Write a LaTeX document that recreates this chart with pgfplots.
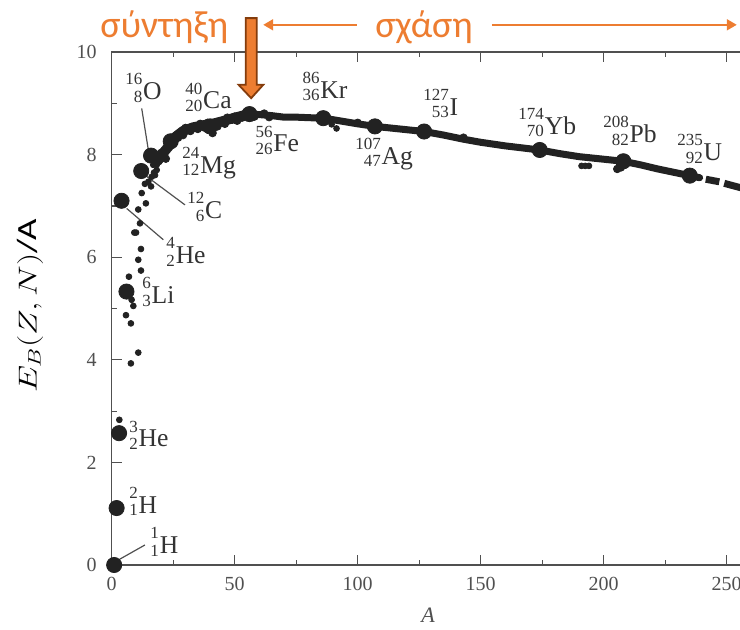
\documentclass[border=0pt]{standalone}
\usepackage{fontspec}
\setmainfont{Liberation Serif}
\newfontfamily\carlito{Carlito}
\usepackage{pgfplots}
\pgfplotsset{compat=1.18}
\usetikzlibrary{arrows.meta}

\definecolor{fuse}{HTML}{ED7D31}
\definecolor{fuseedge}{HTML}{843C0C}
\definecolor{ink}{HTML}{222222}
\definecolor{axisgray}{HTML}{505050}
\definecolor{labelgray}{HTML}{333333}

% nuclide label: mass number over atomic number, then the symbol
\newcommand{\iso}[3]{{\fontsize{8.5}{8.6}\selectfont\raisebox{-1.2pt}{\begin{tabular}[b]{@{}r@{}}#1\\#2\end{tabular}}}\kern0.4pt#3}
\newcommand{\isofont}{\fontsize{12.8}{14}\selectfont}

\begin{document}
\begin{tikzpicture}
\begin{axis}[
    x=1.23pt, y=25.65pt,
    anchor=origin, at={(0,0)},
    xmin=0, xmax=262, ymin=0, ymax=10,
    clip=false,
    axis line style={axisgray, line width=0.7pt},
    every tick/.style={axisgray, line width=0.6pt},
    major tick length=5pt, minor tick length=2.5pt,
    xtick={0,50,...,250}, minor xtick={25,75,...,250},
    ytick={0,2,...,10}, minor ytick={1,3,...,9},
    tick align=inside,
    xtick pos=both, ytick pos=both,
    tick label style={font=\rmfamily\fontsize{10}{12}\selectfont, text=axisgray},
    /pgf/number format/assume math mode=true,
    xticklabel style={yshift=-2.5pt},
    yticklabel style={xshift=-4pt},
]

% main band of stable nuclei
\addplot[ink, line width=3.5pt, line join=round, line cap=round] coordinates {
    (19,7.85) (21,7.97) (23,8.15) (24,8.26) (26,8.35) (28,8.45) (31,8.49)
    (34,8.56) (37,8.58) (40,8.58) (44,8.64) (48,8.70) (52,8.75) (56,8.79)
    (60,8.78) (65,8.76) (70,8.73) (75,8.73) (80,8.72) (86,8.71) (90,8.68)
    (95,8.64) (100,8.60) (107,8.55) (115,8.51) (121,8.48) (127,8.45)
    (135,8.38) (143,8.30) (150,8.24) (160,8.17) (167,8.13) (174,8.09)
    (182,8.02) (190,7.96) (198,7.92) (208,7.87) (215,7.80) (222,7.72)
    (229,7.65) (235,7.59) (239,7.55)
};
\addplot[ink, line width=5pt, line join=round, line cap=round] coordinates {
    (20,7.98) (23,8.15) (26,8.35) (29,8.46) (33,8.53) (37,8.57) (41,8.60)
    (45,8.65) (50,8.72) (55,8.78)
};
\addplot[ink, line width=3.5pt] coordinates {(241.5,7.52) (247,7.47)};
\addplot[ink, line width=3.5pt] coordinates {(249,7.44) (256,7.35)};

% scatter around the band
\addplot[only marks, mark=*, mark size=1.9pt, ink] coordinates {
    (20,8.03) (22,7.92) (25,8.22) (27,8.33) (29,8.38) (30,8.52) (32,8.46)
    (33,8.53) (35,8.50) (36,8.60) (38,8.52) (39,8.62) (41,8.42) (42,8.62)
    (43,8.55) (45,8.64) (46,8.60) (47,8.72) (49,8.68) (50,8.74) (51,8.66)
    (53,8.72) (55,8.77) (58,8.74) (62,8.80) (64,8.73)
    (100,8.62) (143,8.33) (205.5,7.72) (207,7.75)
};

% light nuclei and stray points
\addplot[only marks, mark=*, mark size=1.45pt, ink] coordinates {
    (3.1,2.83) (5.8,4.87) (7.8,4.71) (7.8,3.93) (10.8,4.14) (7.0,5.62)
    (8.1,5.17) (8.8,5.05) (11.9,5.74) (10.8,5.95) (11.9,6.16) (9.2,6.48)
    (9.9,6.48) (11.5,6.66) (10.8,6.93) (13.9,7.05) (12.2,7.25) (13.5,7.43)
    (16,7.38) (14.9,7.47) (17.2,7.65) (18.3,7.80) (16.9,7.80) (18.3,7.70)
    (17.6,7.60) (16.3,7.57)
    (89.4,8.59) (91.4,8.51) (191,7.78) (192.5,7.78) (194,7.78)
};

% labelled nuclides
\addplot[only marks, mark=*, mark size=3.8pt, ink] coordinates {
    (1,0.0) (2,1.11) (3,2.57) (4,7.1) (6,5.33) (12,7.68) (16,7.98)
    (24,8.26) (40,8.55) (56,8.79) (86,8.71) (107,8.55) (127,8.45)
    (174,8.09) (208,7.87) (235,7.59)
};

% leader lines
\draw[axisgray, line width=0.6pt] (axis cs:12.2,8.90) -- (axis cs:14.9,8.09);
\draw[axisgray, line width=0.6pt] (axis cs:13.5,7.60) -- (axis cs:29.8,7.02);
\draw[axisgray, line width=0.6pt] (axis cs:6.1,6.95) -- (axis cs:21.0,6.34);
\draw[axisgray, line width=0.6pt] (axis cs:1.3,0.06) -- (axis cs:13.5,0.39);

% nuclide labels
\begin{scope}[every node/.style={anchor=west, inner sep=0pt, text=labelgray, font=\isofont}]
\node at (axis cs:5.4,9.26) {\iso{16}{8}{O}};
\node at (axis cs:29.8,9.08) {\iso{40}{20}{Ca}};
\node at (axis cs:28.6,7.82) {\iso{24}{12}{Mg}};
\node at (axis cs:58.3,8.24) {\iso{56}{26}{Fe}};
\node at (axis cs:77.4,9.28) {\iso{86}{36}{Kr}};
\node at (axis cs:98.9,8.00) {\iso{107}{47}{Ag}};
\node at (axis cs:126.5,8.95) {\iso{127}{53}{I}};
\node at (axis cs:165.2,8.58) {\iso{174}{70}{Yb}};
\node at (axis cs:199.7,8.42) {\iso{208}{82}{Pb}};
\node at (axis cs:229.8,8.07) {\iso{235}{92}{U}};
\node at (axis cs:30.6,6.94) {\iso{12}{6}{C}};
\node at (axis cs:22.1,6.06) {\iso{4}{2}{He}};
\node at (axis cs:12.3,5.28) {\iso{6}{3}{Li}};
\node at (axis cs:7.0,2.49) {\iso{3}{2}{He}};
\node at (axis cs:7.0,1.20) {\iso{2}{1}{H}};
\node at (axis cs:15.6,0.41) {\iso{1}{1}{H}};
\end{scope}

% x label
\node[text=axisgray, font=\fontsize{11}{12}\selectfont\itshape] at (axis cs:128.6,-0.97) {A};

% fusion / fission annotations
\node[anchor=base west, inner sep=0pt, text=fuse, font=\carlito\fontsize{19}{21}\selectfont] at (axis cs:-4.76,10.29) {σύντηξη};
\node[anchor=base west, inner sep=0pt, text=fuse, font=\carlito\fontsize{19}{21}\selectfont] at (axis cs:107,10.29) {σχάση};
\draw[fuse, line width=1pt, -{Triangle[length=5pt,width=5.5pt]}] (axis cs:99.6,10.53) -- (axis cs:61.6,10.53);
\draw[fuse, line width=1pt, -{Triangle[length=5pt,width=5.5pt]}] (axis cs:154.5,10.53) -- (axis cs:254.1,10.53);
\draw[fuseedge, fill=fuse, line width=0.9pt, line join=miter]
    (axis cs:54.5,10.66) -- (axis cs:59.0,10.66) -- (axis cs:59.0,9.36)
    -- (axis cs:61.6,9.36) -- (axis cs:56.7,9.10) -- (axis cs:51.6,9.36)
    -- (axis cs:54.5,9.36) -- cycle;
\end{axis}

% y label
\node[rotate=90, anchor=base, inner sep=0pt] at (-37.5pt,129.5pt)
    {\scalebox{1}[0.75]{\fontsize{18.5}{20}\selectfont$E_B(Z,N)$\carlito/A}};

\pgfresetboundingbox
\path[use as bounding box] (-55.85pt,-32pt) rectangle (314.15pt,282.5pt);
\end{tikzpicture}
\end{document}
